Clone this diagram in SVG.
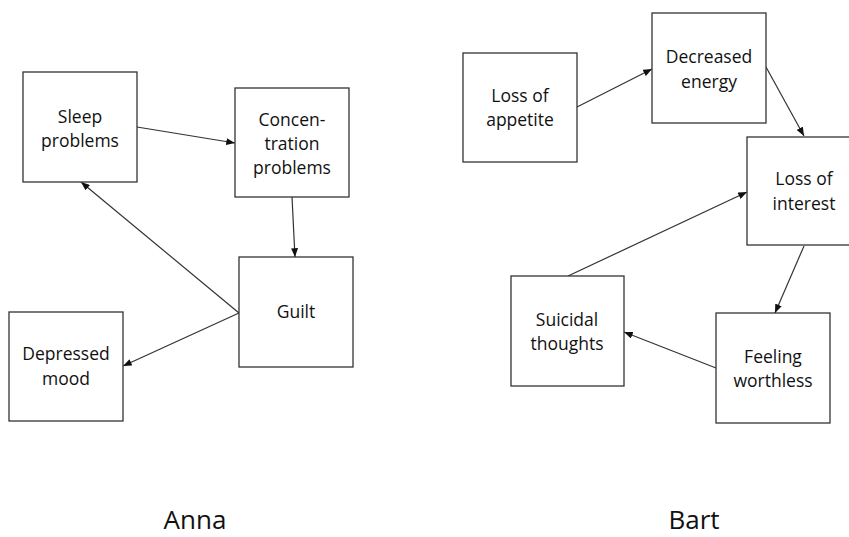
<svg xmlns="http://www.w3.org/2000/svg" width="849" height="537" viewBox="0 0 849 537">
<defs>
<marker id="ah" viewBox="0 0 10 8" refX="10" refY="4" markerWidth="9" markerHeight="7" markerUnits="userSpaceOnUse" orient="auto">
<path d="M0,0 L10,4 L0,8 Z" fill="#111"/>
</marker>
</defs>
<style>
.box{fill:#fff;stroke:#333;stroke-width:1.3}
.t{font-family:"Open Sans","Liberation Sans",sans-serif;font-size:17.5px;fill:#111;text-anchor:middle}
.lbl{font-family:"Open Sans","Liberation Sans",sans-serif;font-size:26px;fill:#111;text-anchor:middle}
.c{stroke:#333;stroke-width:1.2;fill:none;marker-end:url(#ah)}
</style>
<rect width="849" height="537" fill="#fff"/>
<g id="connectors">
<line class="c" x1="137" y1="127" x2="235" y2="143"/>
<line class="c" x1="292" y1="197" x2="295" y2="257"/>
<line class="c" x1="239" y1="313" x2="81" y2="182"/>
<line class="c" x1="239" y1="313" x2="123" y2="366"/>
<line class="c" x1="577" y1="107" x2="652" y2="69"/>
<line class="c" x1="766" y1="67" x2="804" y2="136"/>
<line class="c" x1="568" y1="276" x2="747" y2="192"/>
<line class="c" x1="804" y1="246" x2="775" y2="313"/>
<line class="c" x1="716" y1="368" x2="624" y2="332"/>
</g>
<g id="sleep-problems">
<rect class="box" x="23" y="72" width="114" height="110"/>
<text class="t" x="80" y="123">Sleep</text>
<text class="t" x="80" y="147">problems</text>
</g>
<g id="concentration-problems">
<rect class="box" x="235" y="88" width="114" height="109"/>
<text class="t" x="292" y="126">Concen-</text>
<text class="t" x="292" y="150">tration</text>
<text class="t" x="292" y="174">problems</text>
</g>
<g id="guilt">
<rect class="box" x="239" y="257" width="114" height="110"/>
<text class="t" x="296" y="318">Guilt</text>
</g>
<g id="depressed-mood">
<rect class="box" x="9" y="312" width="114" height="109"/>
<text class="t" x="66" y="360">Depressed</text>
<text class="t" x="66" y="385">mood</text>
</g>
<g id="loss-of-appetite">
<rect class="box" x="463" y="53" width="114" height="109"/>
<text class="t" x="520" y="102">Loss of</text>
<text class="t" x="520" y="126">appetite</text>
</g>
<g id="decreased-energy">
<rect class="box" x="652" y="13" width="114" height="110"/>
<text class="t" x="709" y="63">Decreased</text>
<text class="t" x="709" y="88">energy</text>
</g>
<g id="loss-of-interest">
<rect class="box" x="747" y="137" width="114" height="108"/>
<text class="t" x="804" y="185">Loss of</text>
<text class="t" x="804" y="210">interest</text>
</g>
<g id="suicidal-thoughts">
<rect class="box" x="511" y="276" width="113" height="110"/>
<text class="t" x="567" y="326">Suicidal</text>
<text class="t" x="567" y="350">thoughts</text>
</g>
<g id="feeling-worthless">
<rect class="box" x="716" y="313" width="114" height="110"/>
<text class="t" x="773" y="363">Feeling</text>
<text class="t" x="773" y="387">worthless</text>
</g>
<g id="labels">
<text class="lbl" x="195" y="529">Anna</text>
<text class="lbl" x="694" y="529">Bart</text>
</g>
</svg>
